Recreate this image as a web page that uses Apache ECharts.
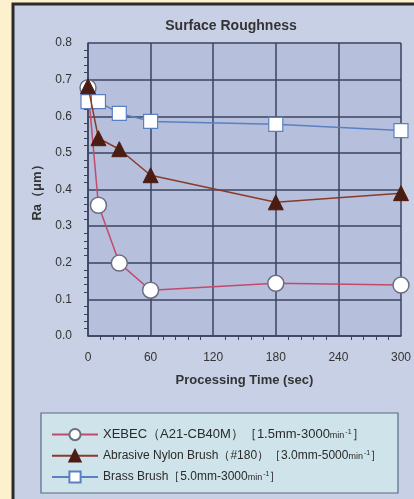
<!DOCTYPE html>
<html>
<head>
<meta charset="utf-8">
<script src="https://cdn.jsdelivr.net/npm/echarts@6/dist/echarts.min.js"></script>
<style>
html,body{margin:0;padding:0;background:#fdf0cc;}
#c{width:414px;height:499px;}
</style>
</head>
<body>
<div id="c"></div>
<script>
var times = [0, 10, 30, 60, 180, 300];
var xebec = [0.678, 0.357, 0.199, 0.125, 0.144, 0.139];
var nylon = [0.682, 0.540, 0.510, 0.439, 0.365, 0.390];
var brass = [0.640, 0.640, 0.608, 0.586, 0.578, 0.561];
var seriesNames = [
  'XEBEC（A21-CB40M）［1.5mm-3000min-1］',
  'Abrasive Nylon Brush（#180）［3.0mm-5000min-1］',
  'Brass Brush［5.0mm-3000min-1］'
];
var legendRich = {
  'XEBEC（A21-CB40M）［1.5mm-3000min-1］': '{a|XEBEC（A21-CB40M）［1.5mm-3000}{s|min}{p|-1}{a|］}',
  'Abrasive Nylon Brush（#180）［3.0mm-5000min-1］': '{n|Abrasive Nylon Brush（#180）［3.0mm-5000}{s|min}{p|-1}{n|］}',
  'Brass Brush［5.0mm-3000min-1］': '{n|Brass Brush［5.0mm-3000}{s|min}{p|-1}{n|］}'
};
var yTicks = [0, 0.1, 0.2, 0.3, 0.4, 0.5, 0.6, 0.7, 0.8];
var xTicks = [0, 60, 120, 180, 240, 300];

function pairs(ys){ return times.map(function(t,i){ return [t, ys[i]]; }); }

var chart = echarts.init(document.getElementById('c'));
var gridC = '#3a4460';
var F = 'Liberation Sans, Arial, sans-serif';
chart.setOption({
  animation: false,
  backgroundColor: '#fdf0cc',
  graphic: [
    {type:'rect', z:-10, shape:{x:13, y:4, width:404, height:499},
     style:{fill:'#c8d0e6', stroke:'#2a2a2a', lineWidth:3}},
    {type:'rect', z:-5, shape:{x:41, y:413, width:357, height:80},
     style:{fill:'#cfe3ea', stroke:'#5a6a80', lineWidth:1.2}}
  ],
  title: {
    text: 'Surface Roughness', left: 226, top: 14, textAlign: 'center',
    textStyle: {fontFamily: F, fontSize: 14, fontWeight: 'bold', color: '#333'}
  },
  grid: {left: 88, right: 11, top: 43, bottom: 163, show: true, backgroundColor: '#b6c0dc', borderWidth: 0},
  xAxis: {
    type: 'value', min: 0, max: 300, interval: 60,
    name: 'Processing Time (sec)', nameLocation: 'middle', nameGap: 38,
    nameTextStyle: {fontFamily: F, fontSize: 13, fontWeight: 'bold', color: '#333'},
    axisLine: {show: true, lineStyle: {color: gridC, width: 1.5}},
    axisTick: {show: false},
    minorTick: {show: true, splitNumber: 5, length: 4, lineStyle: {color: gridC}},
    axisLabel: {margin: 16, fontFamily: F, fontSize: 12, color: '#333',
      formatter: function(v){ return xTicks.indexOf(v) >= 0 ? String(v) : ''; }},
    splitLine: {show: true, lineStyle: {color: gridC, width: 1.5}}
  },
  yAxis: {
    type: 'value', min: 0, max: 0.8, interval: 0.1,
    name: 'Ra（μm）', nameLocation: 'middle', nameGap: 42, nameRotate: 90,
    nameTextStyle: {fontFamily: F, fontSize: 13, fontWeight: 'bold', color: '#333'},
    axisLine: {show: true, lineStyle: {color: gridC, width: 1.5}},
    axisTick: {show: false},
    minorTick: {show: true, splitNumber: 5, length: 4, lineStyle: {color: gridC}},
    axisLabel: {margin: 16, fontFamily: F, fontSize: 12, color: '#333',
      formatter: function(v){ return v.toFixed(1); }},
    splitLine: {show: true, lineStyle: {color: gridC, width: 1.5}}
  },
  legend: {
    orient: 'vertical', left: 46, top: 423, itemGap: 8, itemWidth: 46, itemHeight: 14,
    data: seriesNames,
    formatter: function(name){ return legendRich[name]; },
    textStyle: {
      color: '#2a2a2a',
      rich: {
        a: {fontFamily: F, fontSize: 13, color: '#2a2a2a'},
        n: {fontFamily: F, fontSize: 12, color: '#2a2a2a'},
        s: {fontFamily: F, fontSize: 9, color: '#2a2a2a', padding: [2,0,0,0]},
        p: {fontFamily: F, fontSize: 7, color: '#2a2a2a', padding: [0,0,6,1]}
      }
    }
  },
  series: [
    {name: seriesNames[0], type: 'line', data: pairs(xebec), z: 2,
     symbol: 'circle', symbolSize: 16,
     lineStyle: {color: '#c24a6a', width: 1.5},
     itemStyle: {color: '#ffffff', borderColor: '#6a6f80', borderWidth: 1.5}},
    {name: seriesNames[1], type: 'line', data: pairs(nylon), z: 4,
     symbol: 'triangle', symbolSize: 15,
     lineStyle: {color: '#8a3a2a', width: 1.5},
     itemStyle: {color: '#4a1c12', borderColor: '#4a1c12', borderWidth: 1}},
    {name: seriesNames[2], type: 'line', data: pairs(brass), z: 3,
     symbol: 'rect', symbolSize: 14,
     lineStyle: {color: '#5a80c4', width: 1.5},
     itemStyle: {color: '#ffffff', borderColor: '#5a80c4', borderWidth: 1.2}}
  ]
});
</script>
</body>
</html>
